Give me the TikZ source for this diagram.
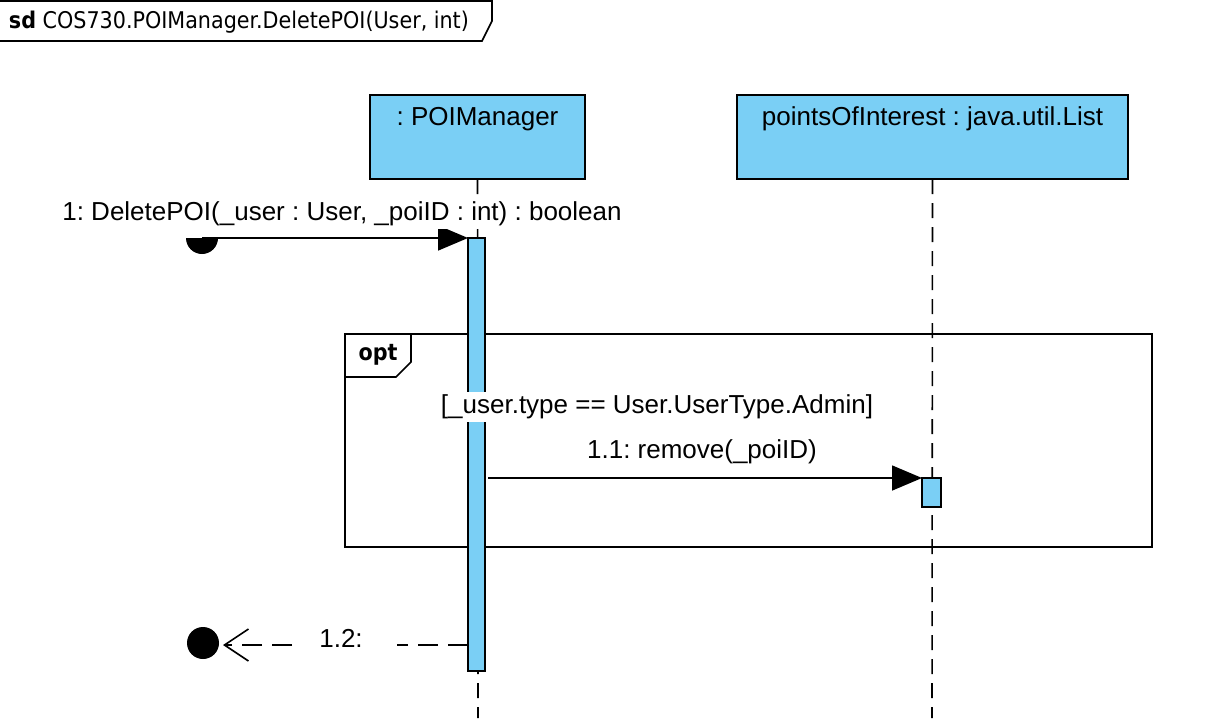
\documentclass[tikz,border=0pt]{standalone}
\usepackage{fontspec}
\setmainfont{Liberation Sans}
\newfontfamily\titlefont{DejaVu Sans Condensed}
\usetikzlibrary{arrows.meta}
\definecolor{actblue}{RGB}{122,207,245}
\frenchspacing
\tikzset{
  x=1pt,y=-1pt,
  every node/.style={inner sep=0pt,outer sep=0pt},
  headbox/.style={draw,line width=1.6pt,fill=actblue,minimum width=#1,minimum height=84pt},
  actbar/.style={draw,line width=1.6pt,fill=actblue},
  lifeline/.style={line width=1.6pt,dash pattern=on 15pt off 9pt},
  msg/.style={line width=1.6pt,-{Triangle[length=30pt,width=25pt]}},
  retmsg/.style={line width=1.6pt,dash pattern=on 20pt off 10pt},
  lbl/.style={font=\fontsize{26}{30}\selectfont},
  wlbl/.style={lbl,fill=white,inner ysep=3pt,inner xsep=1pt},
  frameline/.style={line width=1.6pt},
}
\begin{document}
\begin{tikzpicture}
\useasboundingbox (0,0) rectangle (1226,728);
% diagram frame tab
\draw[frameline] (0,1) -- (492,1) -- (492,21) -- (482,41) -- (0,41);
\node[anchor=west,font=\titlefont\fontsize{23}{27}\selectfont] (title) at (9,22) {\textbf{sd} COS730.POIManager.DeletePOI(User, int)};
% lifeline heads
\node[headbox=215pt] (pm) at (477.5,137) {};
\node[lbl,anchor=north] (pmt) at ([yshift=-12pt]pm.north) {: POIManager};
\node[headbox=391pt] (poi) at (932.5,137) {};
\node[lbl,anchor=north] (poit) at ([yshift=-12pt]poi.north) {pointsOfInterest : java.util.List};
% lifelines
\coordinate (pmend) at (478,718);
\coordinate (poiend) at (932,718);
\draw[lifeline] (pm.south) -- (pmend);
\draw[lifeline] (poi.south) -- (poiend);
% opt fragment
\node[draw,frameline,minimum width=807pt,minimum height=213pt] (opt) at (748.5,440.5) {};
\draw[frameline] (opt.north west) -- ++(66,0) -- ++(0,28) -- ++(-15,15) -- ++(-51,0);
\node[font=\titlefont\bfseries\fontsize{23}{27}\selectfont] (optt) at (378,355) {opt};
% activation bars
\node[actbar,minimum width=17pt,minimum height=433pt] (act1) at (476.5,454.5) {};
\node[actbar,minimum width=19pt,minimum height=29pt] (act2) at (931.5,492.5) {};
\node[wlbl] (guard) at (657,407) {[\_user.type == User.UserType.Admin]};
% message 1
\coordinate (m1s) at (202,238);
\fill ([xshift=-16pt]m1s) arc[start angle=180,end angle=360,radius=16pt] -- cycle;
\draw[msg] (m1s) -- (act1.north west);
\node[wlbl] (m1l) at (342,214) {1: DeletePOI(\_user : User, \_poiID : int) : boolean};
% message 1.1
\coordinate (m11s) at (488,478);
\draw[msg] (m11s) -- (act2.north west);
\node[lbl] (m11l) at (702,452) {1.1: remove(\_poiID)};
% return 1.2
\node[circle,fill=black,minimum size=32pt] (endc) at (203,643) {};
\coordinate (r1) at (397,645);
\coordinate (r2) at (292,645);
\coordinate (rtip) at ([xshift=4pt]endc.east |- r2);
\draw[retmsg] (act1.west |- r1) -- (r1);
\draw[retmsg,-{Straight Barb[length=24pt,width=32pt,line width=1.6pt]}] (r2) -- (rtip);
\node[lbl] (m12l) at (341,638) {1.2:};
\end{tikzpicture}
\end{document}
